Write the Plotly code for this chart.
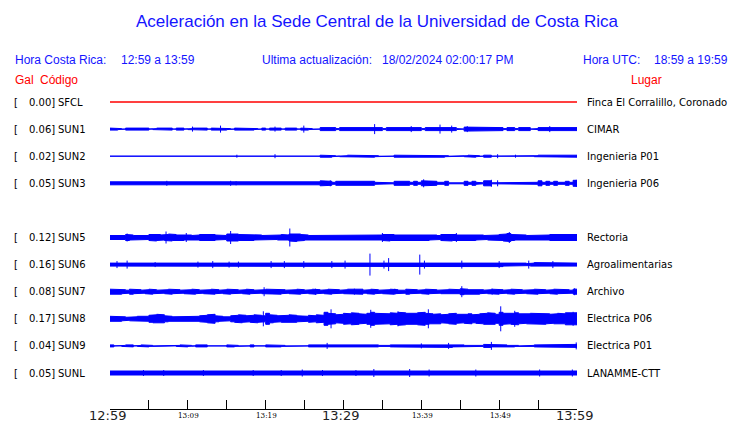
import plotly.graph_objects as go

# station rows (row 4 is left empty, as on the reference page)
ROW_INDEX = [0, 1, 2, 3, 5, 6, 7, 8, 9, 10]
CODES = ["SFCL", "SUN1", "SUN2", "SUN3", "SUN5", "SUN6", "SUN7", "SUN8", "SUN9", "SUNL"]
PEAK_GAL = ["0.00", "0.06", "0.02", "0.05", "0.12", "0.16", "0.08", "0.17", "0.04", "0.05"]
SITES = ["Finca El Corralillo, Coronado", "CIMAR", "Ingenieria P01", "Ingenieria P06",
         "Rectoria", "Agroalimentarias", "Archivo", "Electrica P06", "Electrica P01", "LANAMME-CTT"]

# band thickness (px) per half-minute bin
SFCL_ENV = [1]
SUN1_ENV = [3, 3, 2, 1, 3, 3, 3, 2, 2, 3, 1, 2, 3, 3, 3, 3, 1, 3, 3, 1,
            2, 3, 3, 2, 3, 1, 3, 3, 3, 3, 2, 1, 3, 3, 3, 3, 3, 2, 1, 3,
            1, 3, 3, 3, 1, 3, 3, 3, 1, 3, 3, 2, 1, 1, 4, 4, 4, 4, 2, 4,
            4, 4, 4, 4, 4, 4, 4, 4, 4, 4, 2, 4, 4, 4, 4, 4, 4, 4, 4, 4,
            2, 4, 4, 4, 4, 4, 4, 4, 4, 2, 1, 5, 4, 4, 4, 4, 4, 4, 4, 4,
            4, 2, 4, 4, 2, 4, 4, 4, 1, 2, 4, 4, 4, 4, 4, 5, 4, 4, 4, 4]
SUN2_ENV = [1, 1, 1, 1, 1, 1, 1, 1, 1, 1, 1, 1, 1, 1, 1, 1, 1, 1, 1, 1,
            1, 1, 1, 1, 1, 1, 1, 1, 1, 1, 1, 1, 1, 1, 1, 1, 1, 1, 1, 1,
            1, 1, 1, 1, 1, 1, 1, 1, 1, 1, 1, 1, 1, 1, 3, 3, 3, 2, 1, 2,
            2, 3, 3, 3, 3, 3, 3, 3, 2, 1, 1, 2, 1, 3, 3, 2, 3, 2, 3, 3,
            2, 3, 3, 2, 3, 3, 2, 1, 1, 1, 1, 2, 3, 3, 2, 1, 3, 3, 1, 2,
            1, 1, 1, 1, 1, 1, 1, 1, 1, 2, 3, 2, 3, 3, 2, 2, 2, 3, 3, 3]
SUN3_ENV = [4, 4, 4, 4, 4, 4, 4, 4, 4, 4, 4, 4, 4, 4, 4, 4, 4, 4, 4, 4,
            4, 4, 4, 4, 4, 4, 4, 4, 4, 4, 4, 4, 4, 4, 4, 4, 4, 4, 4, 4,
            4, 4, 4, 4, 4, 4, 4, 4, 4, 4, 4, 4, 4, 4, 6, 6, 5, 3, 5, 5,
            5, 5, 5, 5, 6, 5, 5, 5, 3, 2, 2, 3, 2, 5, 5, 5, 5, 3, 5, 3,
            6, 6, 5, 5, 3, 3, 5, 2, 2, 2, 2, 5, 3, 5, 3, 2, 6, 6, 2, 3,
            2, 2, 2, 2, 2, 2, 2, 2, 2, 3, 6, 3, 5, 3, 5, 3, 3, 5, 3, 7]
SUN5_ENV = [5, 6, 5, 5, 7, 6, 5, 6, 5, 5, 7, 8, 7, 6, 7, 8, 7, 6, 7, 6,
            6, 5, 6, 7, 7, 8, 7, 6, 5, 5, 8, 9, 8, 7, 6, 6, 7, 6, 6, 5,
            6, 6, 5, 6, 7, 6, 8, 9, 8, 7, 6, 5, 6, 6, 5, 6, 6, 5, 6, 6,
            5, 6, 6, 5, 6, 5, 6, 6, 5, 6, 7, 8, 7, 6, 6, 7, 6, 6, 7, 6,
            6, 7, 6, 6, 5, 7, 7, 8, 7, 6, 6, 6, 6, 7, 6, 6, 5, 6, 6, 6,
            7, 8, 9, 7, 6, 6, 6, 5, 6, 5, 6, 6, 6, 7, 7, 7, 8, 7, 7, 7]
SUN6_ENV = [4, 5, 5, 4, 4, 4, 4, 4, 4, 4, 4, 4, 5, 4, 4, 4, 4, 4, 4, 4,
            5, 4, 4, 5, 4, 4, 5, 4, 5, 5, 5, 4, 4, 5, 5, 4, 4, 4, 4, 4,
            4, 4, 5, 4, 5, 5, 4, 4, 4, 4, 4, 4, 5, 4, 4, 5, 5, 4, 5, 4,
            5, 4, 4, 4, 4, 5, 4, 4, 5, 5, 5, 5, 5, 4, 4, 4, 4, 5, 5, 5,
            5, 5, 4, 4, 4, 4, 4, 4, 4, 4, 4, 5, 5, 4, 4, 4, 4, 4, 4, 4,
            5, 4, 4, 4, 4, 4, 4, 3, 4, 5, 4, 4, 4, 4, 4, 5, 4, 4, 4, 4]
SUN7_ENV = [6, 5, 6, 5, 4, 6, 5, 5, 4, 5, 6, 5, 4, 4, 5, 6, 5, 5, 4, 5,
            5, 6, 5, 4, 5, 5, 6, 5, 4, 5, 6, 5, 5, 4, 5, 6, 5, 4, 4, 5,
            6, 5, 5, 6, 5, 4, 5, 5, 6, 5, 4, 5, 6, 5, 4, 5, 6, 5, 5, 4,
            5, 6, 5, 5, 6, 4, 5, 6, 5, 4, 5, 5, 6, 5, 4, 4, 6, 5, 5, 4,
            5, 6, 5, 5, 4, 5, 5, 6, 5, 5, 7, 6, 5, 5, 6, 5, 4, 5, 6, 6,
            5, 4, 5, 6, 5, 5, 4, 5, 5, 6, 5, 5, 4, 5, 6, 5, 5, 5, 4, 6]
SUN8_ENV = [6, 6, 6, 5, 4, 5, 5, 6, 5, 6, 8, 9, 10, 9, 7, 6, 5, 6, 5, 5,
            6, 5, 6, 7, 8, 9, 10, 7, 6, 5, 5, 7, 8, 9, 8, 7, 8, 9, 8, 7,
            12, 9, 8, 7, 8, 8, 9, 8, 7, 6, 6, 8, 7, 9, 8, 14, 12, 11, 9, 10,
            12, 11, 13, 12, 11, 10, 12, 14, 12, 11, 12, 11, 13, 12, 14, 13, 12, 11, 12, 13,
            14, 12, 11, 10, 11, 9, 10, 11, 12, 10, 9, 10, 11, 9, 10, 11, 12, 13, 12, 10,
            14, 12, 11, 12, 13, 11, 10, 11, 12, 11, 11, 12, 11, 10, 11, 12, 11, 13, 14, 13]
SUN9_ENV = [3, 1, 1, 2, 3, 3, 1, 2, 3, 3, 2, 1, 1, 2, 1, 1, 1, 2, 3, 3,
            2, 1, 3, 2, 3, 1, 2, 1, 2, 1, 3, 3, 2, 1, 2, 1, 3, 1, 2, 1,
            3, 3, 3, 3, 2, 1, 2, 1, 1, 2, 1, 3, 3, 3, 3, 4, 4, 3, 3, 3,
            3, 3, 4, 3, 3, 3, 3, 3, 3, 2, 1, 2, 3, 3, 3, 3, 3, 3, 3, 3,
            4, 3, 3, 3, 3, 3, 4, 4, 3, 3, 3, 2, 3, 3, 3, 2, 4, 4, 3, 3,
            3, 3, 2, 3, 2, 1, 2, 1, 2, 3, 3, 3, 3, 3, 3, 3, 3, 3, 3, 4]
SUNL_ENV = [5, 5, 4, 4, 4, 4, 4, 5, 4, 4, 4, 4, 5, 4, 4, 4, 4, 4, 4, 5,
            4, 4, 4, 5, 4, 4, 4, 4, 4, 4, 4, 4, 4, 4, 4, 4, 4, 5, 4, 4,
            4, 4, 5, 4, 4, 4, 4, 4, 4, 5, 4, 4, 4, 4, 4, 5, 4, 4, 4, 4,
            4, 4, 4, 5, 4, 4, 5, 5, 4, 4, 4, 4, 4, 4, 4, 4, 4, 5, 5, 4,
            5, 5, 5, 4, 4, 4, 5, 4, 4, 4, 4, 4, 4, 4, 4, 5, 5, 4, 4, 4,
            4, 4, 4, 4, 4, 4, 4, 4, 4, 4, 4, 5, 4, 4, 4, 4, 4, 4, 5, 5]

# isolated peaks: minute after 12:59 and peak-to-peak size (px)
SFCL_SPK_T, SFCL_SPK_H = [], []
SUN1_SPK_T = [10.6, 14.2, 21.2, 24.9, 34.0, 38.7, 42.4, 43.9, 45.9, 56.5]
SUN1_SPK_H = [5, 7, 5, 7, 10, 6, 9, 7, 6, 6]
SUN2_SPK_T = [16.3, 21.2, 49.8, 52.1]
SUN2_SPK_H = [3, 4, 4, 3]
SUN3_SPK_T = [7.3, 15.5, 16.2, 28.3, 40.3, 49.0, 49.8, 59.9]
SUN3_SPK_H = [5, 5, 4, 6, 8, 7, 6, 7]
SUN5_SPK_T = [2.2, 7.2, 9.8, 15.5, 23.1, 35.0, 44.5, 51.3]
SUN5_SPK_H = [8, 12, 9, 13, 18, 9, 9, 11]
SUN6_SPK_T = [0.9, 2.2, 5.8, 11.3, 13.2, 15.3, 16.5, 20.7, 22.4, 24.9, 28.5,
              30.2, 33.4, 35.2, 35.8, 39.8, 40.4, 45.2, 50.0, 53.8, 56.9]
SUN6_SPK_H = [7, 8, 5, 6, 7, 6, 6, 7, 7, 7, 7, 8, 22, 8, 13, 20, 8, 8, 7, 8, 7]
SUN7_SPK_T = [19.8, 26.4, 31.4, 36.6, 45.2, 49.1, 59.7]
SUN7_SPK_H = [9, 6, 6, 6, 11, 6, 7]
SUN8_SPK_T = [19.7, 28.4, 33.5, 37.0, 40.9, 50.2, 52.0, 59.5]
SUN8_SPK_H = [15, 19, 18, 15, 19, 25, 16, 14]
SUN9_SPK_T = [27.9, 40.0, 43.5, 49.0, 59.9]
SUN9_SPK_H = [6, 5, 6, 8, 7]
SUNL_SPK_T = [4.3, 6.9, 12.0, 18.4, 22.0, 24.7, 27.3, 31.6, 33.9, 38.5, 41.0, 47.0, 55.2, 59.4]
SUNL_SPK_H = [6, 6, 6, 6, 6, 7, 6, 6, 8, 8, 7, 7, 7, 7]

ENVS = [SFCL_ENV, SUN1_ENV, SUN2_ENV, SUN3_ENV, SUN5_ENV, SUN6_ENV, SUN7_ENV, SUN8_ENV, SUN9_ENV, SUNL_ENV]
SPK_T = [SFCL_SPK_T, SUN1_SPK_T, SUN2_SPK_T, SUN3_SPK_T, SUN5_SPK_T, SUN6_SPK_T, SUN7_SPK_T, SUN8_SPK_T, SUN9_SPK_T, SUNL_SPK_T]
SPK_H = [SFCL_SPK_H, SUN1_SPK_H, SUN2_SPK_H, SUN3_SPK_H, SUN5_SPK_H, SUN6_SPK_H, SUN7_SPK_H, SUN8_SPK_H, SUN9_SPK_H, SUNL_SPK_H]
COLORS = ["red"] + ["#0000ff"] * 9

TICK_MIN = [0, 5, 10, 15, 20, 25, 30, 35, 40, 45, 50, 55, 60]
BIG_TIME = {0: "12:59", 30: "13:29", 60: "13:59"}
SMALL_TIME = {10: "13:09", 20: "13:19", 40: "13:39", 50: "13:49"}

# page geometry, in page pixels; the html body adds an 8px margin
OFF = 8
PAGE_W, PAGE_H = 740, 423
L, R, T, B = 110, 577, 88, 409
ROW0, ROW_STEP = 102, 27.1
W, H = PAGE_W - OFF, PAGE_H - OFF


def px_x(x):
    return (x - L) / (R - L)


def px_y(y):
    return (B - y) / (B - T)


fig = go.Figure()

for idx, env, st, sh, col in zip(ROW_INDEX, ENVS, SPK_T, SPK_H, COLORS):
    c = ROW0 + ROW_STEP * idx
    w = 60 / len(env)
    xs, top, bot = [], [], []
    for k, v in enumerate(env):
        half = max(v - 1, 0) / 2
        xs += [k * w, (k + 1) * w]
        top += [c - half, c - half]
        bot += [c + half, c + half]
    fig.add_trace(go.Scatter(x=xs + xs[::-1], y=top + bot[::-1], mode="lines",
                             fill="toself", fillcolor=col, line=dict(color=col, width=1),
                             hoverinfo="skip", showlegend=False))
    if st:
        sx, sy = [], []
        for t, h in zip(st, sh):
            sx += [t, t, None]
            sy += [c - h / 2, c + h / 2, None]
        fig.add_trace(go.Scatter(x=sx, y=sy, mode="lines", line=dict(color=col, width=1),
                                 hoverinfo="skip", showlegend=False))

ann = []


def text(x, y, s, size, color, family="Liberation Sans, Arial", anchor="left"):
    ann.append(dict(x=px_x(x), y=px_y(y), xref="paper", yref="paper", text=s, showarrow=False,
                    xanchor=anchor, yanchor="middle", font=dict(family=family, size=size, color=color)))


text(377, 22, "Aceleración en la Sede Central de la Universidad de Costa Rica", 17, "#1414ff", anchor="center")
text(13, 60, "Hora Costa Rica:", 12, "#1414ff")
text(119, 60, "12:59 a 13:59", 12, "#1414ff")
text(260, 60, "Ultima actualización:", 12, "#1414ff")
text(380, 60, "18/02/2024 02:00:17 PM", 12, "#1414ff")
text(581, 60, "Hora UTC:", 12, "#1414ff")
text(652, 60, "18:59 a 19:59", 12, "#1414ff")
text(13, 80, "Gal", 12, "red")
text(38, 80, "Código", 12, "red")
text(629, 80, "Lugar", 12, "red")

for idx, code, gal, site in zip(ROW_INDEX, CODES, PEAK_GAL, SITES):
    c = ROW0 + ROW_STEP * idx
    text(12, c, "[", 10, "black", "DejaVu Sans")
    text(57, c, gal + "]", 10, "black", "DejaVu Sans", anchor="right")
    text(56, c, code, 10, "black", "DejaVu Sans")
    text(585, c, site, 10, "black", "DejaVu Sans")

for m, s in BIG_TIME.items():
    ann.append(dict(x=m, y=px_y(416), xref="x", yref="paper", text=s, showarrow=False,
                    xanchor="center", yanchor="middle", xshift=-3,
                    font=dict(family="DejaVu Sans", size=13, color="#222222")))
for m, s in SMALL_TIME.items():
    ann.append(dict(x=m, y=px_y(415), xref="x", yref="paper", text=s, showarrow=False,
                    xanchor="center", yanchor="middle", xshift=1,
                    font=dict(family="DejaVu Serif Condensed, DejaVu Serif", size=8, color="black")))

fig.update_layout(
    width=W, height=H,
    margin=dict(l=L - OFF, r=PAGE_W - R, t=T - OFF, b=PAGE_H - B, pad=0),
    paper_bgcolor="white", plot_bgcolor="white",
    annotations=ann,
    xaxis=dict(range=[0, 60], showgrid=False, zeroline=False, showline=True, linecolor="black",
               linewidth=1, ticks="inside", tickvals=TICK_MIN, ticklen=9, tickcolor="black",
               showticklabels=False, fixedrange=True),
    yaxis=dict(range=[B, T], visible=False, fixedrange=True),
)

fig.write_html("out.html")
